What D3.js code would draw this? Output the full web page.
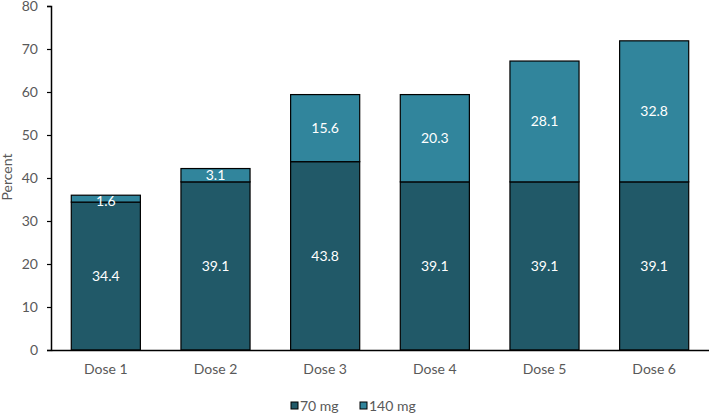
<!DOCTYPE html>
<html><head><meta charset="utf-8">
<script src="https://cdn.jsdelivr.net/npm/d3@7"></script>
<style>body{margin:0;background:#fff}svg{display:block}text{font-family:Lato,"Open Sans",sans-serif}</style>
</head><body><svg id="c" width="709" height="413"></svg>
<script>
const categories = ["Dose 1","Dose 2","Dose 3","Dose 4","Dose 5","Dose 6"];
const seriesNames = ["70 mg","140 mg"];
const values70 = [34.4, 39.1, 43.8, 39.1, 39.1, 39.1];
const values140 = [1.6, 3.1, 15.6, 20.3, 28.1, 32.8];
const yTicks = [0,10,20,30,40,50,60,70,80];
const colors = ["#215968","#31859C"];

const svg = d3.select("#c");
const m = {l:51, r:0, t:6, b:63};
const W = 709, H = 413;
const x = d3.scaleBand().domain(categories).range([m.l, W - m.r]).paddingInner(0.37).paddingOuter(0.185);
const y = d3.scaleLinear().domain([0,80]).range([350, m.t]);

const data = categories.map((c,i)=>({cat:c, v:[values70[i], values140[i]]}));
const stack = d3.stack().keys([0,1]).value((d,k)=>d.v[k])(data);

const g = svg.append("g");
stack.forEach((layer,k)=>{
  g.selectAll(null).data(layer).enter().append("rect")
    .attr("x", d=>x(d.data.cat)).attr("width", x.bandwidth())
    .attr("y", d=>y(d[1])).attr("height", d=>y(d[0])-y(d[1]))
    .attr("fill", colors[k]).attr("stroke","#000").attr("stroke-width",1.2);
  g.selectAll(null).data(layer).enter().append("text")
    .attr("x", d=>x(d.data.cat)+x.bandwidth()/2)
    .attr("y", d=>(y(d[0])+y(d[1]))/2 + (d.data.v[k] < 2 ? 2 : 0)).attr("dy","0.35em")
    .attr("text-anchor","middle").attr("fill","#fff").attr("font-size",14)
    .text(d=>d3.format(".1f")(d.data.v[k]));
});

const ya = svg.append("g").attr("transform",`translate(${m.l},0)`)
  .call(d3.axisLeft(y).tickValues(yTicks).tickSize(4).tickPadding(9));
ya.select(".domain").attr("stroke","#000").attr("stroke-width",1.5);
ya.selectAll(".tick line").attr("stroke","#000").attr("stroke-width",1.2);
ya.selectAll(".tick text").attr("font-size",14).attr("fill","#595959").attr("font-family","Lato");

const xa = svg.append("g").attr("transform",`translate(0,350)`)
  .call(d3.axisBottom(x).tickSize(0).tickPadding(14).tickSizeOuter(0));
xa.select(".domain").attr("stroke","#000").attr("stroke-width",1.5);
xa.selectAll(".tick text").attr("font-size",14).attr("fill","#595959").attr("font-family","Lato");

svg.append("text").attr("transform","translate(12,177) rotate(-90)")
  .attr("text-anchor","middle").attr("font-size",14).attr("fill","#595959").text("Percent");

const leg = svg.append("g");
const legX = [291, 360];
seriesNames.forEach((n,k)=>{
  leg.append("rect").attr("x",legX[k]).attr("y",402).attr("width",7).attr("height",7)
    .attr("fill",colors[k]).attr("stroke","#000").attr("stroke-width",1);
  leg.append("text").attr("x",legX[k]+9).attr("y",406).attr("dy","0.35em")
    .attr("font-size",14).attr("fill","#595959").text(n);
});
</script></body></html>
